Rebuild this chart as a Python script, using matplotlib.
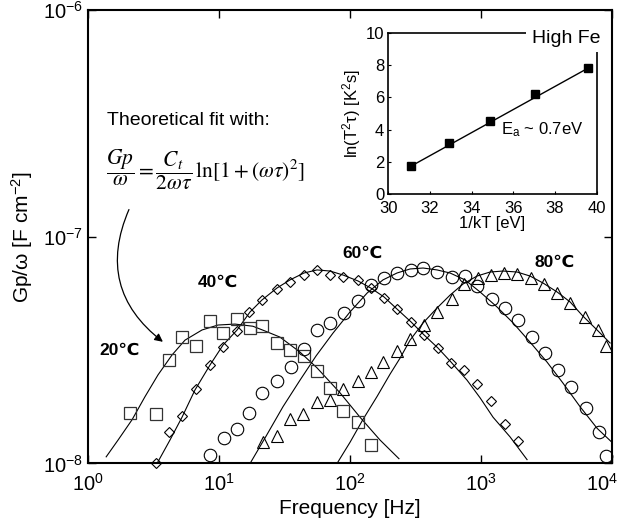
import numpy as np
import matplotlib
matplotlib.use("Agg")
import matplotlib.pyplot as plt
import matplotlib.transforms as mtransforms

plt.rcParams['font.family'] = ['Liberation Sans', 'DejaVu Sans']

# 20C (squares)
f20 = [2.08, 3.29, 4.16, 5.23, 6.61, 8.51, 10.7, 13.6, 17.1, 21.4, 27.8, 34.9, 44.2, 55.6, 70.8, 88.7, 115, 144]
g20 = [1.67e-8, 1.65e-8, 2.86e-8, 3.62e-8, 3.31e-8, 4.26e-8, 3.78e-8, 4.34e-8, 3.95e-8, 4.03e-8,
       3.41e-8, 3.16e-8, 2.99e-8, 2.57e-8, 2.15e-8, 1.71e-8, 1.52e-8, 1.21e-8]

# 40C (diamonds)
f40 = [3.31, 4.16, 5.23, 6.61, 8.51, 10.7, 13.6, 17.0, 21.4, 27.8, 34.9, 44.2, 55.6, 70.2,
       88.7, 114, 144, 182, 229, 290, 367, 467, 587, 745, 937, 1186, 1525, 1907]
g40 = [1.005e-8, 1.38e-8, 1.62e-8, 2.13e-8, 2.72e-8, 3.27e-8, 3.83e-8, 4.68e-8, 5.24e-8, 5.88e-8,
       6.30e-8, 6.78e-8, 7.14e-8, 6.78e-8, 6.67e-8, 6.45e-8, 5.93e-8, 5.37e-8, 4.79e-8, 4.22e-8,
       3.69e-8, 3.24e-8, 2.77e-8, 2.59e-8, 2.24e-8, 1.89e-8, 1.50e-8, 1.26e-8]

# 60C (circles)
f60 = [8.54, 10.8, 13.6, 17.0, 21.4, 27.8, 35.2, 44.4, 55.6, 70.2, 89.8, 114, 144, 182, 229, 290,
       362, 464, 597, 755, 937, 1207, 1525, 1928, 2466, 3083, 3895, 4870, 6341, 7967, 9016]
g60 = [1.09e-8, 1.30e-8, 1.42e-8, 1.67e-8, 2.04e-8, 2.31e-8, 2.66e-8, 3.19e-8, 3.88e-8, 4.18e-8,
       4.60e-8, 5.21e-8, 6.10e-8, 6.56e-8, 6.90e-8, 7.14e-8, 7.26e-8, 7.01e-8, 6.63e-8, 6.71e-8,
       6.07e-8, 5.31e-8, 4.84e-8, 4.29e-8, 3.60e-8, 3.06e-8, 2.59e-8, 2.18e-8, 1.75e-8, 1.38e-8, 1.08e-8]

# 80C (triangles)
f80 = [21.6, 27.6, 34.9, 43.9, 55.6, 69.9, 88.7, 114, 144, 179, 227, 287, 367, 464, 597, 745,
       943, 1192, 1499, 1894, 2410, 3029, 3828, 4786, 6230, 7790, 9016]
g80 = [1.24e-8, 1.32e-8, 1.57e-8, 1.65e-8, 1.86e-8, 1.91e-8, 2.14e-8, 2.32e-8, 2.54e-8, 2.81e-8,
       3.14e-8, 3.53e-8, 4.08e-8, 4.67e-8, 5.30e-8, 6.19e-8, 6.56e-8, 6.78e-8, 6.90e-8, 6.85e-8,
       6.56e-8, 6.19e-8, 5.63e-8, 5.09e-8, 4.41e-8, 3.88e-8, 3.30e-8]

# theoretical fit curves
fit20_f = [1.37, 1.69, 2.16, 2.71, 3.41, 4.36, 5.48, 7.39, 9.79, 13.2, 18.1, 22.4, 29.1, 41.4,
           55.9, 83.7, 119, 169, 236]
fit20_g = [1.07e-8, 1.27e-8, 1.56e-8, 1.97e-8, 2.46e-8, 3.01e-8, 3.50e-8, 3.88e-8, 4.08e-8, 4.12e-8,
           4.03e-8, 3.84e-8, 3.61e-8, 3.10e-8, 2.64e-8, 2.05e-8, 1.60e-8, 1.27e-8, 1.05e-8]

fit40_f = [3.35, 4.21, 5.20, 6.53, 8.51, 10.7, 13.7, 17.2, 21.2, 27.6, 34.7, 44.4, 55.9, 70.2,
           88.3, 115, 144, 182, 228, 292, 367, 469, 590, 782, 982, 1235, 1666, 2246]
fit40_g = [1.00e-8, 1.27e-8, 1.60e-8, 2.11e-8, 2.72e-8, 3.33e-8, 3.88e-8, 4.66e-8, 5.26e-8, 5.94e-8,
           6.45e-8, 6.92e-8, 7.14e-8, 7.06e-8, 6.78e-8, 6.38e-8, 5.94e-8, 5.42e-8, 4.80e-8, 4.21e-8,
           3.69e-8, 3.23e-8, 2.80e-8, 2.33e-8, 1.95e-8, 1.60e-8, 1.31e-8, 1.04e-8]

fit60_f = [17.2, 22.8, 30.7, 41.4, 54.9, 74.0, 99.8, 135, 178, 228, 287, 361, 461, 580, 755, 982,
           1325, 1756, 2367, 3193, 4230, 5706, 7694, 10000]
fit60_g = [1.00e-8, 1.32e-8, 1.78e-8, 2.33e-8, 2.98e-8, 3.76e-8, 4.66e-8, 5.65e-8, 6.45e-8, 6.92e-8,
           7.21e-8, 7.28e-8, 7.14e-8, 6.92e-8, 6.45e-8, 5.71e-8, 4.90e-8, 4.17e-8, 3.43e-8, 2.80e-8,
           2.26e-8, 1.78e-8, 1.43e-8, 1.24e-8]

fit80_f = [79.4, 99.8, 125, 161, 202, 241, 287, 361, 461, 580, 729, 932, 1172, 1473, 1884, 2367,
           2976, 3807, 4786, 5993, 7694, 9672]
fit80_g = [1.00e-8, 1.24e-8, 1.56e-8, 1.98e-8, 2.48e-8, 2.92e-8, 3.50e-8, 4.17e-8, 4.85e-8, 5.53e-8,
           6.19e-8, 6.71e-8, 6.99e-8, 7.06e-8, 6.99e-8, 6.71e-8, 6.25e-8, 5.71e-8, 5.16e-8, 4.47e-8,
           3.88e-8, 3.40e-8]

# inset: Arrhenius plot
inv_kT = [31.1, 32.9, 34.9, 37.05, 39.6]
ln_T2tau = [1.77, 3.15, 4.54, 6.19, 7.81]
line_x = [31.1, 39.6]
line_y = [1.75, 7.82]

fig = plt.figure(figsize=(6.23, 5.27), dpi=100)
ax = fig.add_axes([0.1417, 0.1205, 0.8406, 0.8605])

lw = 0.8
ax.plot(fit20_f, fit20_g, color='black', lw=lw)
ax.plot(fit40_f, fit40_g, color='black', lw=lw)
ax.plot(fit60_f, fit60_g, color='black', lw=lw)
ax.plot(fit80_f, fit80_g, color='black', lw=lw)

ax.plot(f20, g20, 's', ms=8.5, mfc='none', mec='#333333', mew=0.9, clip_on=False)
ax.plot(f40, g40, 'D', ms=5.5, mfc='none', mec='black', mew=0.8, clip_on=False)
ax.plot(f60, g60, 'o', ms=9, mfc='none', mec='black', mew=0.8, clip_on=False)
ax.plot(f80, g80, '^', ms=9, mfc='none', mec='black', mew=0.8, clip_on=False)

ax.set_xscale('log')
ax.set_yscale('log')
ax.set_xlim(1, 1e4)
ax.set_ylim(1e-8, 1e-6)
ax.set_xticks([1, 10, 100, 1000, 10000])
ax.set_xticklabels([r'$\mathregular{10^{%d}}$' % i for i in range(5)])
ax.set_yticks([1e-8, 1e-7, 1e-6])
ax.set_yticklabels([r'$\mathregular{10^{%d}}$' % i for i in (-8, -7, -6)])
ax.minorticks_off()
ax.tick_params(direction='in', length=6, width=1, labelsize=14.5, top=True, right=True)
ax.tick_params(axis='x', pad=7)
for s in ax.spines.values():
    s.set_linewidth(1.5)

# keep the 10^4 label inside the figure
last = ax.get_xticklabels()[-1]
last.set_transform(last.get_transform() + mtransforms.ScaledTranslation(-7 / 72, 0, fig.dpi_scale_trans))

ax.set_xlabel('Frequency [Hz]', fontsize=15, labelpad=3)
ax.set_ylabel(r'Gp/ω [F cm$\mathregular{^{-2}}$]', fontsize=15, labelpad=6)

ax.text(0.035, 0.757, 'Theoretical fit with:', transform=ax.transAxes, fontsize=14,
        ha='left', va='center')
ax.text(0.033, 0.647, r'$\dfrac{Gp}{\omega}=\dfrac{C_t}{2\omega\tau}\,\mathrm{ln}[1+(\omega\tau)^2]$',
        transform=ax.transAxes, fontsize=15.5, ha='left', va='center', math_fontfamily='stix')
ax.annotate('', xy=(0.1467, 0.2646), xytext=(0.0798, 0.5656), xycoords='axes fraction',
            arrowprops=dict(arrowstyle='-|>', color='black', lw=0.9, mutation_scale=12,
                            connectionstyle='arc3,rad=0.4'))

for lab, x, y in [('20℃', 0.0605, 0.250), ('40℃', 0.2477, 0.400),
                  ('60℃', 0.5245, 0.464), ('80℃', 0.891, 0.444)]:
    ax.text(x, y, lab, transform=ax.transAxes, fontsize=12.5, fontweight='bold',
            ha='center', va='center')

# inset
ins = fig.add_axes([0.6233, 0.6313, 0.3345, 0.3066])
ins.plot(line_x, line_y, color='black', lw=1)
ins.plot(inv_kT, ln_T2tau, 's', ms=6, color='black')
ins.set_xlim(30, 40)
ins.set_ylim(0, 10)
ins.set_xticks([30, 32, 34, 36, 38, 40])
ins.set_yticks([0, 2, 4, 6, 8, 10])
ins.tick_params(direction='in', length=2, labelsize=12, pad=3)
ins.tick_params(axis='x', pad=5)
for s in ins.spines.values():
    s.set_linewidth(1.2)
ins.set_xlabel('1/kT [eV]', fontsize=12, labelpad=0)
ins.set_ylabel('ln(T$\\mathregular{^2}$τ) [K$\\mathregular{^2}$s]', fontsize=12, labelpad=2)
ins.text(0.738, 0.398, 'E$\\mathregular{_a}$ ~ 0.7eV', transform=ins.transAxes, fontsize=12,
         ha='center', va='center')
ins.text(0.853, 0.967, 'High Fe', transform=ins.transAxes, fontsize=14, ha='center',
         va='center', clip_on=False, zorder=10,
         bbox=dict(boxstyle='square,pad=0.3', fc='white', ec='none'))

fig.savefig('out.png', dpi=100)
